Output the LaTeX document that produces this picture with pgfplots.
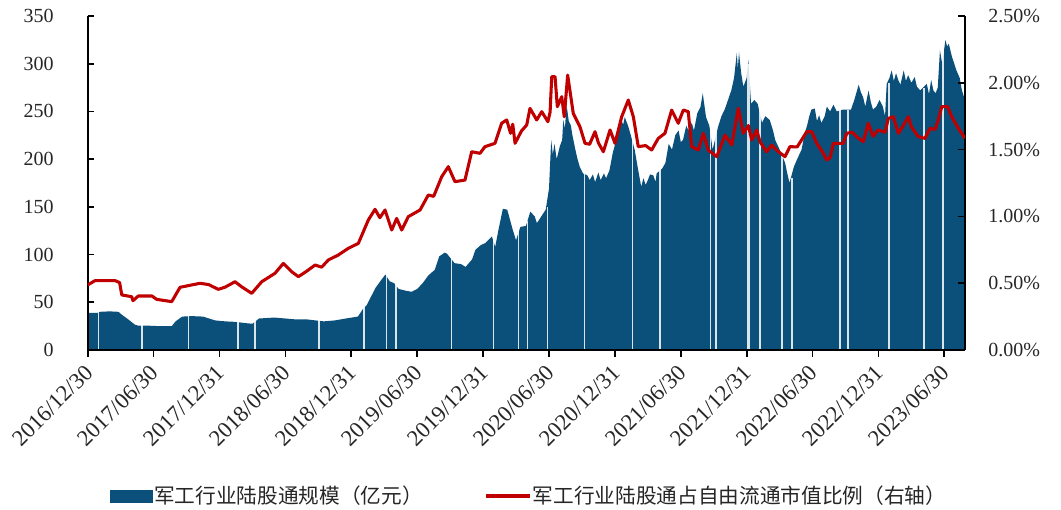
\documentclass[border=0pt]{standalone}
\usepackage{pgfplots}
\pgfplotsset{compat=1.18}
\usepackage{fontspec}
\setmainfont{Liberation Serif}
\newfontfamily\cjk{Noto Sans CJK SC}
\definecolor{barblue}{HTML}{0A507A}
\definecolor{linered}{HTML}{C00000}
\begin{document}
\begin{tikzpicture}
\path[use as bounding box] (0,0) rectangle (795.75pt,382.5pt);
\begin{axis}[
  at={(65.8pt,120pt)}, anchor=south west,
  scale only axis, width=657.95pt, height=250.5pt,
  xmin=0, xmax=79.88, ymin=0, ymax=350,
  axis x line*=bottom, axis y line*=left,
  axis line style={black, line width=1.3pt, -},
  every tick/.style={black, line width=1.3pt},
  major tick length=5pt,
  xtick align=outside, ytick align=inside,
  ytick={0,50,...,350},
  xtick={0,6,...,78},
  xticklabels={2016/12/30,2017/06/30,2017/12/31,2018/06/30,2018/12/31,2019/06/30,2019/12/31,2020/06/30,2020/12/31,2021/06/30,2021/12/31,2022/06/30,2022/12/31,2023/06/30},
  tick label style={font=\fontsize{15}{18}\selectfont, text=black!85},
  xticklabel style={font=\fontsize{17}{20}\selectfont, rotate=45, anchor=north east, inner sep=1pt, xshift=-4.8pt, yshift=-0.2pt},
  yticklabel style={xshift=-22pt},
  /pgf/number format/assume math mode=true,
  axis on top,
  clip=true,
]
\addplot[fill=barblue, draw=none] coordinates {
(0,38.8) (0.9,39) (1.1,40) (2.0,40.5) (2.8,40) (3.1,37) (3.7,32) (4.3,26.5) (4.6,25.5) (5.5,25.5) (6.5,25) (7.65,25) (8.0,30) (8.6,35) (9.5,35.5) (10.5,35) (11.6,31) (12.5,30) (13.4,29.5) (14.5,28) (15.0,27.5) (15.6,33) (17,34) (18,33) (19,32) (20,32) (21.5,30) (22.5,31) (23.5,33) (24.6,35) (25.0,42) (25.4,47) (25.8,56) (26.2,65) (26.7,73) (27.1,79) (27.5,72) (27.9,70) (28.3,64) (29.0,62) (29.5,61) (30.0,64) (30.5,70) (31.0,78) (31.6,84) (32.0,98) (32.5,102) (32.7,101) (33.4,91) (34.0,90) (34.4,87) (35.0,95) (35.3,105) (35.8,110) (36.2,112) (36.8,119) (37.1,108) (37.4,126) (37.8,148) (38.2,147) (38.7,126) (39.0,115) (39.4,129) (39.9,130) (40.3,145) (40.7,140) (40.9,133) (41.3,140) (41.7,147)
(42.0,169) (42.2,220) (42.35,205) (42.5,216) (42.7,200) (43.0,214) (43.2,220) (43.3,241) (43.45,232) (43.6,257) (43.8,240) (44.0,235) (44.1,227) (44.4,210) (44.6,200) (44.8,192) (45.1,185) (45.5,183) (45.7,178) (46.0,184) (46.2,176) (46.5,186) (46.7,178) (47.0,185) (47.2,180) (47.5,188) (47.8,206) (48.0,215) (48.3,234) (48.6,241) (48.75,236) (48.9,244) (49.2,235) (49.4,227) (49.8,210) (50.1,190) (50.4,171) (50.6,180) (50.8,173) (51.0,178) (51.2,184) (51.5,183) (51.7,176) (51.8,185) (52.3,190) (52.6,196) (52.9,216) (53.2,210) (53.5,225) (53.8,230) (54.0,218) (54.2,220) (54.5,235) (54.7,230) (55.0,238) (55.2,230) (55.5,248) (55.8,255) (56.0,269) (56.3,244) (56.6,235) (56.9,210) (57.4,234) (57.7,245) (58.0,252) (58.3,262) (58.6,272) (58.85,285) (59.1,311) (59.2,295) (59.3,312) (59.5,290) (59.7,276) (60.0,285) (60.15,304) (60.4,258) (60.7,262) (61.0,258) (61.4,238) (61.7,245) (62.1,241) (62.4,230) (62.6,220) (63.0,210) (63.5,196) (63.7,185) (63.9,175) (64.3,192) (64.6,200) (65.0,210) (65.3,228) (65.5,235) (65.7,245) (65.9,252) (66.2,253) (66.4,240) (66.6,246) (66.8,238) (67.1,245) (67.3,255) (67.6,250) (67.9,257) (68.2,250) (68.8,252) (69.5,252) (69.8,262) (70.2,278) (70.4,270) (70.6,265) (70.8,255) (71.1,272) (71.3,260) (71.5,252) (71.8,255) (72.1,262) (72.4,255) (72.6,245) (72.75,279) (73.0,285) (73.2,293) (73.4,282) (73.6,290) (73.8,283) (74.0,278) (74.3,293) (74.5,282) (74.7,288) (75.0,280) (75.3,286) (75.5,276) (75.8,272) (76.4,279) (76.6,268) (76.8,283) (77.0,272) (77.2,269) (77.4,275) (77.6,314) (77.8,300) (78.1,325) (78.25,318) (78.4,321) (78.7,307) (79.1,293) (79.4,285) (79.6,272) (79.88,262)
} \closedcycle;
\addplot[ycomb, white, line width=1.2pt, opacity=0.85] coordinates {
(0.97,40) (4.92,26) (9.16,36) (13.66,30) (15.23,30) (21.06,33) (25.18,45) (27.22,79) (28.07,70) (33.14,100) (36.93,119) (39.21,125) (40.06,135) (41.88,150) (45.22,186) (49.59,230) (52.11,190) (56.72,240) (57.18,230) (60.09,300) (60.21,300) (61.21,258) (63.19,210) (64.10,180) (68.50,252) (69.25,252) (72.96,280) (76.15,275) (77.90,314)
};
\end{axis}
\begin{axis}[
  at={(65.8pt,120pt)}, anchor=south west,
  scale only axis, width=657.95pt, height=250.5pt,
  xmin=0, xmax=79.88, ymin=0, ymax=2.5,
  axis x line=none, axis y line*=right,
  axis line style={black, line width=1.3pt, -},
  every tick/.style={black, line width=1.3pt},
  major tick length=5pt,
  ytick align=inside,
  ytick={0,0.5,...,2.5},
  yticklabel={\pgfmathprintnumber[fixed,fixed zerofill,precision=2]{\tick}\%},
  yticklabel style={xshift=14pt},
  tick label style={font=\fontsize{15}{18}\selectfont, text=black!85},
  /pgf/number format/assume math mode=true,
  legend columns=2,
  legend style={at={(0.5024,-0.437)}, anchor=center, draw=none, fill=none,
    font=\fontsize{15.5}{18}\selectfont, text=black!85,
    /tikz/every even column/.append style={column sep=45pt},
    nodes={inner sep=1pt}},
]
\addlegendimage{legend image code/.code={\fill[barblue] (0pt,-4.5pt) rectangle (32pt,4.5pt);}}
\addlegendentry{\cjk 军工行业陆股通规模（亿元）}
\addplot[linered, line width=2.3pt, line join=round,
  legend image code/.code={\draw[linered, line width=2.5pt] (0pt,0pt) -- (33pt,0pt);}] coordinates {
(0,0.487) (0.66,0.519) (2.49,0.519) (2.9,0.505) (3.1,0.412) (4.0,0.399) (4.12,0.369) (4.6,0.404) (5.85,0.404) (6.28,0.379) (7.65,0.362) (8.4,0.469) (9.47,0.487) (10.22,0.499) (11.0,0.49) (11.89,0.454) (12.5,0.47) (13.41,0.511) (14.0,0.474) (14.93,0.424) (15.84,0.511) (17.05,0.574) (17.81,0.648) (18.57,0.586) (19.18,0.549) (19.94,0.59) (20.70,0.636) (21.3,0.62) (21.91,0.674) (22.82,0.711) (23.73,0.761) (24.64,0.798) (25.55,0.973) (26.16,1.053) (26.6,0.99) (27.07,1.048) (27.68,0.898) (28.13,0.985) (28.59,0.898) (29.19,0.998) (30.26,1.048) (31.01,1.160) (31.5,1.15) (32.23,1.297) (32.83,1.372) (33.44,1.260) (34.35,1.272) (34.96,1.484) (35.72,1.472) (36.17,1.522) (37.08,1.547) (37.69,1.697) (38.15,1.722) (38.5,1.622) (38.7,1.69) (38.91,1.547) (39.5,1.64) (39.97,1.684) (40.27,1.809) (40.88,1.722) (41.34,1.784) (41.9,1.709) (42.1,1.78) (42.25,2.046) (42.55,2.046) (42.76,1.821) (43.16,1.896) (43.39,1.746) (43.70,2.058) (43.9,1.946) (44.21,1.771) (44.82,1.671) (45.28,1.547) (45.7,1.54) (46.19,1.634) (46.5,1.55) (46.95,1.484) (47.56,1.647) (48.01,1.547) (48.62,1.746) (49.22,1.871) (49.68,1.746) (50.13,1.522) (50.8,1.53) (51.35,1.497) (51.95,1.584) (52.56,1.622) (53.17,1.796) (53.77,1.697) (54.23,1.796) (54.68,1.784) (54.99,1.522) (55.60,1.497) (56.05,1.622) (56.5,1.497) (57.27,1.447) (58.03,1.609) (58.64,1.534) (59.24,1.809) (59.69,1.622) (60.15,1.68) (60.46,1.572) (60.91,1.647) (61.21,1.559) (61.82,1.484) (62.28,1.534) (62.8,1.49) (63.49,1.447) (63.94,1.522) (64.6,1.52) (65.47,1.634) (65.92,1.634) (66.38,1.547) (66.98,1.472) (67.29,1.422) (67.6,1.44) (67.89,1.547) (68.8,1.547) (69.11,1.622) (69.6,1.63) (70.1,1.59) (70.62,1.559) (71.07,1.697) (71.5,1.60) (71.98,1.647) (72.6,1.63) (72.90,1.734) (73.35,1.746) (73.81,1.622) (74.26,1.68) (74.72,1.746) (75.0,1.67) (75.63,1.597) (76.24,1.584) (76.7,1.66) (77.15,1.65) (77.45,1.722) (77.76,1.821) (78.3,1.821) (78.67,1.746) (79.27,1.659) (79.88,1.584)
};
\addlegendentry{\cjk 军工行业陆股通占自由流通市值比例（右轴）}
\end{axis}
\end{tikzpicture}
\end{document}
